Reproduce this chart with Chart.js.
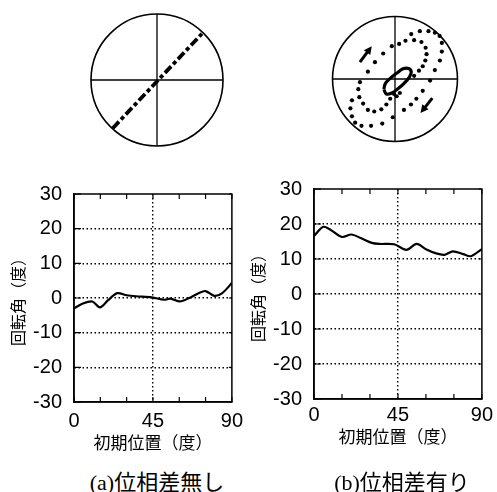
<!DOCTYPE html>
<html>
<head>
<meta charset="utf-8">
<script src="https://cdn.jsdelivr.net/npm/chart.js@4.4.0/dist/chart.umd.min.js"></script>
<style>
  body { margin: 0; background: #fff; }
  #wrap { position: relative; width: 497px; height: 492px; background: #fff; overflow: hidden; }
  canvas { position: absolute; }
  .cap {
    position: absolute; top: 464px; width: 200px; text-align: center;
    font-family: "Liberation Serif", "Noto Sans CJK JP", serif; font-size: 22px; color: #000;
  }
</style>
</head>
<body>
<div id="wrap">
  <canvas id="circA" width="150" height="150" style="left:82px;top:5px"></canvas>
  <canvas id="circB" width="150" height="150" style="left:320px;top:4px"></canvas>
  <canvas id="plotA" width="250" height="283" style="left:0px;top:170px"></canvas>
  <canvas id="plotB" width="257" height="282" style="left:240px;top:165px"></canvas>
  <div class="cap" style="left:57px">(a)位相差無し</div>
  <div class="cap" style="left:302px">(b)位相差有り</div>
</div>
<script>
// --- plot data ---
const degA = [0, 5, 10.4, 14.8, 19.3, 24.6, 30, 35.4, 44.3, 51.4, 55, 60.4, 65.7, 71, 75, 80, 84.5, 90];
const rotA = [-3.0, -1.6, -1.0, -2.7, -0.7, 1.4, 0.8, 0.5, 0.2, -0.5, -0.2, -1.0, 0, 1.4, 2.0, 0.6, 1.4, 4.3];

const degB = [0, 5, 9, 15, 20, 25, 31, 35, 43, 49.5, 55, 60, 65.5, 70, 74.5, 80, 84, 90];
const rotB = [16.6, 19.2, 18.3, 16.3, 17.0, 16.0, 14.6, 14.3, 14.2, 12.6, 14.3, 12.8, 11.6, 11.2, 12.2, 11.4, 10.8, 12.8];

const xLabels = [0, 45, 90];
const yTitle = '回転角（度）';
const xTitle = '初期位置（度）';

// --- circle diagrams (unit circle coordinates) ---
const lineA = [[-0.67, -0.73], [0.68, 0.70]];

const dotsB = [
  [0.066, 0.561], [0.168, 0.612], [0.306, 0.622], [0.423, 0.592], [0.490, 0.500], [0.505, 0.398],
  [0.485, 0.296], [0.444, 0.204], [0.383, 0.133], [0.306, 0.051],
  [0.260, 0.719], [0.398, 0.765], [0.536, 0.765], [0.638, 0.740], [0.714, 0.689], [0.750, 0.577],
  [0.750, 0.439], [0.719, 0.296], [0.638, 0.143], [0.561, -0.026],
  [0.444, -0.189], [0.342, -0.316], [0.255, -0.408], [0.143, -0.495], [0.077, -0.224], [0.026, -0.276],
  [-0.561, -0.051], [-0.587, -0.163], [-0.571, -0.291], [-0.510, -0.393], [-0.434, -0.495], [-0.332, -0.520],
  [-0.219, -0.485], [-0.138, -0.408], [-0.077, -0.316], [-0.015, -0.240],
  [-0.689, -0.342], [-0.714, -0.469], [-0.689, -0.597], [-0.638, -0.699], [-0.536, -0.750], [-0.383, -0.750],
  [-0.204, -0.714], [-0.036, -0.612],
  [-0.434, 0.117], [-0.321, 0.270], [-0.189, 0.408], [-0.051, 0.526]
];
const loopB = [
  [-0.179, -0.163], [-0.153, -0.071], [-0.077, 0.010], [0.026, 0.092], [0.128, 0.163], [0.219, 0.168],
  [0.260, 0.112], [0.230, 0.031], [0.153, -0.061], [0.051, -0.153], [-0.051, -0.224], [-0.138, -0.240],
  [-0.179, -0.163]
];
const arrowsB = [[-0.561, 0.270, -0.372, 0.526], [0.597, -0.306, 0.408, -0.546]];

const toXY = arr => arr.map(p => ({ x: p[0], y: p[1] }));
const zip = (xs, ys) => xs.map((x, i) => ({ x: x, y: ys[i] }));

Chart.defaults.color = '#000';
Chart.defaults.font.family = '"Liberation Sans", Arial, sans-serif';

// circle + crosshair + arrows drawn with the chart's scales
const circlePlugin = {
  id: 'circle',
  beforeDatasetsDraw(chart) {
    const { ctx, scales: { x, y } } = chart;
    const cx = x.getPixelForValue(0), cy = y.getPixelForValue(0);
    const r = x.getPixelForValue(1) - cx;
    ctx.save();
    ctx.strokeStyle = '#000';
    ctx.lineWidth = 1.6;
    ctx.beginPath();
    ctx.arc(cx, cy, r, 0, Math.PI * 2);
    ctx.stroke();
    ctx.lineWidth = 1.3;
    ctx.beginPath();
    ctx.moveTo(cx - r, cy); ctx.lineTo(cx + r, cy);
    ctx.moveTo(cx, cy - r); ctx.lineTo(cx, cy + r);
    ctx.stroke();
    const arrows = chart.options.plugins.circle.arrows || [];
    arrows.forEach(a => {
      const x1 = x.getPixelForValue(a[0]), y1 = y.getPixelForValue(a[1]);
      const x2 = x.getPixelForValue(a[2]), y2 = y.getPixelForValue(a[3]);
      const ang = Math.atan2(y2 - y1, x2 - x1);
      ctx.lineWidth = 3;
      ctx.beginPath();
      ctx.moveTo(x1, y1);
      ctx.lineTo(x2 - 5 * Math.cos(ang), y2 - 5 * Math.sin(ang));
      ctx.stroke();
      ctx.fillStyle = '#000';
      ctx.beginPath();
      ctx.moveTo(x2, y2);
      ctx.lineTo(x2 - 8 * Math.cos(ang) + 4 * Math.sin(ang), y2 - 8 * Math.sin(ang) - 4 * Math.cos(ang));
      ctx.lineTo(x2 - 8 * Math.cos(ang) - 4 * Math.sin(ang), y2 - 8 * Math.sin(ang) + 4 * Math.cos(ang));
      ctx.closePath();
      ctx.fill();
    });
    ctx.restore();
  }
};

function circleOptions(arrows) {
  const lim = 75 / 66;
  return {
    responsive: false,
    animation: false,
    layout: { padding: 0 },
    plugins: { legend: { display: false }, tooltip: { enabled: false }, circle: { arrows: arrows } },
    scales: {
      x: { type: 'linear', display: false, min: -lim, max: lim },
      y: { type: 'linear', display: false, min: -lim, max: lim }
    }
  };
}

new Chart(document.getElementById('circA'), {
  type: 'scatter',
  data: {
    datasets: [{
      data: toXY(lineA),
      showLine: true,
      borderColor: '#000',
      borderWidth: 3.8,
      borderDash: [9, 3, 4, 3],
      pointRadius: 0
    }]
  },
  options: circleOptions([]),
  plugins: [circlePlugin]
});

new Chart(document.getElementById('circB'), {
  type: 'scatter',
  data: {
    datasets: [{
      data: toXY(loopB),
      showLine: true,
      borderColor: '#000',
      borderWidth: 3.2,
      tension: 0.4,
      pointRadius: 0
    }, {
      data: toXY(dotsB),
      backgroundColor: '#000',
      borderWidth: 0,
      pointRadius: 2.1
    }]
  },
  options: circleOptions(arrowsB),
  plugins: [circlePlugin]
});

// frame + inward ticks for the line plots
const framePlugin = {
  id: 'frame',
  afterDatasetsDraw(chart) {
    const { ctx, chartArea: a, scales: { x, y } } = chart;
    ctx.save();
    ctx.strokeStyle = '#000';
    ctx.lineWidth = 1.5;
    ctx.strokeRect(a.left, a.top, a.right - a.left, a.bottom - a.top);
    ctx.lineWidth = 1.2;
    ctx.beginPath();
    x.ticks.forEach(t => {
      const px = x.getPixelForValue(t.value);
      ctx.moveTo(px, a.bottom); ctx.lineTo(px, a.bottom - 5);
      ctx.moveTo(px, a.top); ctx.lineTo(px, a.top + 5);
    });
    y.ticks.forEach(t => {
      const py = y.getPixelForValue(t.value);
      ctx.moveTo(a.left, py); ctx.lineTo(a.left + 7, py);
      ctx.moveTo(a.right, py); ctx.lineTo(a.right - 3, py);
    });
    ctx.stroke();
    ctx.restore();
  }
};

function plotOptions(pad, xHeight, tickPad) {
  return {
    responsive: false,
    animation: false,
    layout: { padding: pad },
    plugins: { legend: { display: false }, tooltip: { enabled: false } },
    scales: {
      x: {
        type: 'linear', min: 0, max: 90,
        afterFit: s => { s.height = xHeight; },
        ticks: {
          stepSize: 15, autoSkip: false, maxRotation: 0, padding: tickPad,
          font: { size: 20 },
          callback: v => xLabels.includes(v) ? String(v) : ''
        },
        grid: {
          drawTicks: false, lineWidth: 1.4,
          color: c => (c.tick && c.tick.value === 45) ? '#000' : 'rgba(0,0,0,0)'
        },
        border: { display: true, color: '#000', width: 1.5, dash: [1.5, 2.5] },
        title: {
          display: true, text: xTitle, padding: 0,
          font: { family: '"Noto Sans CJK JP", sans-serif', size: 17 }
        }
      },
      y: {
        type: 'linear', min: -30, max: 30,
        afterFit: s => { s.width = 74; },
        ticks: { stepSize: 10, padding: 12, font: { size: 20 } },
        grid: {
          drawTicks: false, lineWidth: 1.4,
          color: c => (c.tick && Math.abs(c.tick.value) !== 30) ? '#000' : 'rgba(0,0,0,0)'
        },
        border: { display: true, color: '#000', width: 1.5, dash: [1.5, 2.5] },
        title: {
          display: true, text: yTitle, padding: { top: 8, bottom: 0 },
          font: { family: '"Noto Sans CJK JP", sans-serif', size: 16 }
        }
      }
    }
  };
}

function lineSet(xs, ys) {
  return [{
    data: zip(xs, ys),
    borderColor: '#000',
    borderWidth: 2.2,
    tension: 0.3,
    pointRadius: 0,
    fill: false
  }];
}

new Chart(document.getElementById('plotA'), {
  type: 'line',
  data: { datasets: lineSet(degA, rotA) },
  options: plotOptions({ left: 0, right: 8, top: 13, bottom: 0 }, 51, 7),
  plugins: [framePlugin]
});

new Chart(document.getElementById('plotB'), {
  type: 'line',
  data: { datasets: lineSet(degB, rotB) },
  options: plotOptions({ left: 0, right: 15, top: 16, bottom: 0 }, 48, 4),
  plugins: [framePlugin]
});
</script>
</body>
</html>
